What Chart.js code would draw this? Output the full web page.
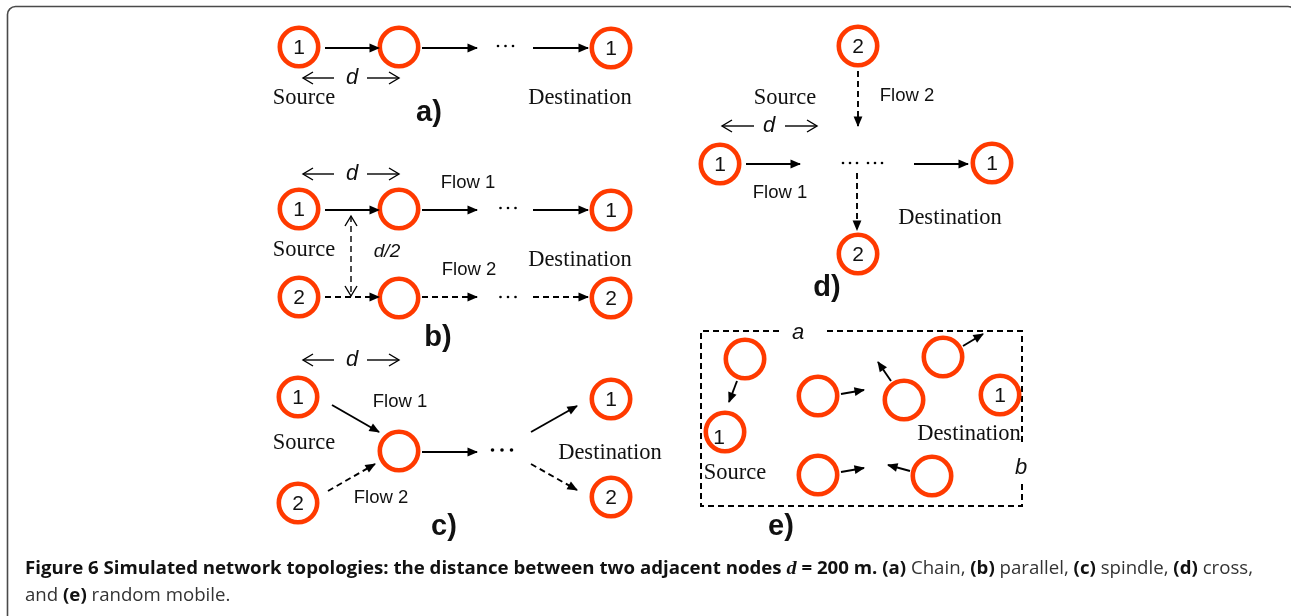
<!DOCTYPE html>
<html>
<head>
<meta charset="utf-8">
<script src="https://cdn.jsdelivr.net/npm/chart.js@4.4.0/dist/chart.umd.min.js"></script>
<style>
html, body { margin: 0; padding: 0; background: #fff; overflow: hidden; }
canvas { display: block; }
</style>
</head>
<body>
<canvas id="topo" width="1291" height="616"></canvas>
<script>
// nodes of the five topologies (a, b, c, d, e)
var nodeX = [299, 399, 611,
             299, 399, 611, 299, 399, 611,
             298, 298, 399, 611, 611,
             858, 720, 992, 858,
             745, 725, 818, 904, 943, 1000, 818, 932];
var nodeY = [47, 47, 48,
             209, 209, 210, 297, 298, 298,
             397, 503, 451, 399, 497,
             46, 164, 163, 254,
             359, 432, 396, 400, 357, 395, 475, 476];
var nodeText = ['1', '', '1',
                '1', '', '1', '2', '', '2',
                '1', '2', '', '1', '2',
                '2', '1', '1', '2',
                '', '', '', '', '', '1', '', ''];

// links: start point, end point, dashed or not, head type
var arrowX0 = [325, 422, 533,
               325, 422, 533, 325, 422, 533, 351,
               332, 422, 531, 531, 328,
               858, 746, 914, 857,
               737, 841, 891, 963, 841, 910,
               334, 367, 334, 367, 334, 367, 754, 785];
var arrowY0 = [48, 48, 48,
               210, 210, 210, 297, 297, 297, 216,
               405, 452, 432, 464, 491,
               71, 164, 164, 173,
               381, 394, 381, 346, 472, 471,
               78, 78, 174, 174, 360, 360, 126, 126];
var arrowX1 = [379, 477, 588,
               379, 477, 588, 379, 477, 588, 351,
               379, 477, 577, 577, 375,
               858, 800, 968, 857,
               729, 864, 878, 983, 864, 888,
               303, 399, 303, 399, 303, 399, 722, 817];
var arrowY1 = [48, 48, 48,
               210, 210, 210, 297, 297, 297, 296,
               432, 452, 406, 490, 464,
               126, 164, 164, 230,
               402, 390, 362, 334, 468, 465,
               78, 78, 174, 174, 360, 360, 126, 126];
var arrowDashed = [0, 0, 0,
                   0, 0, 0, 1, 1, 1, 1,
                   0, 0, 0, 1, 1,
                   1, 0, 0, 1,
                   0, 0, 0, 0, 0, 0,
                   0, 0, 0, 0, 0, 0, 0, 0];
var arrowHead = ['fill', 'fill', 'fill',
                 'fill', 'fill', 'fill', 'fill', 'fill', 'fill', 'both',
                 'fill', 'fill', 'fill', 'fill', 'fill',
                 'fill', 'fill', 'fill', 'fill',
                 'fill', 'fill', 'fill', 'fill', 'fill', 'fill',
                 'open', 'open', 'open', 'open', 'open', 'open', 'open', 'open'];

// the "..." between hops
var dotX = [498, 505.5, 513, 500.5, 508, 515.5, 500.5, 508, 515.5, 492.5, 502, 511.5, 843, 850, 857, 868, 875, 882];
var dotY = [46, 46, 46, 208, 208, 208, 297, 297, 297, 450, 450, 450, 163, 163, 163, 163, 163, 163];

// random mobile area (panel e), broken where a and b are written
var areaX = [779, 701, 701, 1022, 1022, null, 1022, 1022, 823];
var areaY = [331, 331, 506, 506, 481, null, 442, 331, 331];

// texts of the drawing
var labelText = ['Source', 'Destination', 'a)',
                 'd', 'd', 'd', 'd',
                 'Flow 1', 'Source', 'd/2', 'Flow 2', 'Destination', 'b)',
                 'Flow 1', 'Source', 'Destination', 'Flow 2', 'c)',
                 'Flow 2', 'Source', 'Flow 1', 'Destination', 'd)',
                 'a', 'b', 'Destination', 'Source', '1', 'e)'];
var labelX = [304, 580, 429,
              352, 352, 352, 769,
              468, 304, 387, 469, 580, 438,
              400, 304, 610, 381, 444,
              907, 785, 780, 950, 827,
              798, 1021, 969, 735, 719, 781];
var labelY = [98, 98, 113,
              78, 174, 360, 126,
              183, 250, 252, 270, 260, 338,
              402, 443, 453, 498, 527,
              96, 98, 193, 218, 288,
              333, 468, 434, 473, 438, 527];
var labelKind = ['serif', 'serif', 'panel',
                 'ital', 'ital', 'ital', 'ital',
                 'sans', 'serif', 'ital2', 'sans', 'serif', 'panel',
                 'sans', 'serif', 'serif', 'sans', 'panel',
                 'sans', 'serif', 'sans', 'serif', 'panel',
                 'ital', 'ital', 'serif', 'serif', 'digit', 'panel'];

var fonts = {
    serif: '22.5px "Liberation Serif"',
    sans: '18.5px "Liberation Sans"',
    ital: 'italic 22px "Liberation Sans"',
    ital2: 'italic 19px "Liberation Sans"',
    panel: 'bold 29px "Liberation Sans"',
    digit: '21px "Liberation Sans"'
};

var captionLine1 = [
    ['b', 'Figure 6 Simulated network topologies: the distance between two adjacent nodes '],
    ['m', 'd'],
    ['b', ' = 200 m. '],
    ['b', '(a)'], ['n', ' Chain, '],
    ['b', '(b)'], ['n', ' parallel, '],
    ['b', '(c)'], ['n', ' spindle, '],
    ['b', '(d)'], ['n', ' cross,']
];
var captionLine2 = [['n', 'and '], ['b', '(e)'], ['n', ' random mobile.']];

var RED = '#ff3a00';

function pts(xs, ys) {
    return xs.map(function (x, i) {
        return x === null ? {x: null, y: null} : {x: x, y: ys[i]};
    });
}

var datasets = [];
datasets.push({
    label: 'nodes',
    data: pts(nodeX, nodeY),
    showLine: false,
    pointRadius: 19.2,
    pointBorderWidth: 4.6,
    pointBackgroundColor: '#fff',
    pointBorderColor: RED,
    order: 0
});
datasets.push({
    label: 'dots',
    data: pts(dotX, dotY),
    showLine: false,
    pointRadius: dotX.map(function (x, i) { return i >= 9 && i < 12 ? 1.8 : 1.3; }),
    pointBorderWidth: 0,
    pointBackgroundColor: '#000',
    order: 1
});
datasets.push({
    label: 'area',
    type: 'line',
    data: pts(areaX, areaY),
    spanGaps: false,
    borderColor: '#000',
    borderWidth: 2,
    borderDash: [6, 4],
    pointRadius: 0,
    order: 2
});
arrowX0.forEach(function (x0, i) {
    var open = arrowHead[i] !== 'fill';
    datasets.push({
        label: 'arrow' + i,
        type: 'line',
        data: [{x: x0, y: arrowY0[i]}, {x: arrowX1[i], y: arrowY1[i]}],
        borderColor: '#000',
        borderWidth: open ? 1.4 : 1.9,
        borderDash: arrowDashed[i] ? [6, 4] : [],
        pointRadius: 0,
        head: arrowHead[i],
        order: 3
    });
});

function drawHead(ctx, from, to, kind) {
    var a = Math.atan2(to.y - from.y, to.x - from.x);
    ctx.save();
    ctx.translate(to.x, to.y);
    ctx.rotate(a);
    ctx.setLineDash([]);
    if (kind === 'fill') {
        ctx.beginPath();
        ctx.moveTo(1, 0);
        ctx.lineTo(-9.5, -4.4);
        ctx.lineTo(-9.5, 4.4);
        ctx.closePath();
        ctx.fillStyle = '#000';
        ctx.fill();
    } else {
        ctx.beginPath();
        ctx.moveTo(-10, -6);
        ctx.lineTo(0, 0);
        ctx.lineTo(-10, 6);
        ctx.strokeStyle = '#000';
        ctx.lineWidth = 1.4;
        ctx.stroke();
    }
    ctx.restore();
}

function runWidth(ctx, runs, runFont) {
    var w = 0;
    runs.forEach(function (r) {
        ctx.font = runFont[r[0]];
        w += ctx.measureText(r[1]).width;
    });
    return w;
}

function drawRuns(ctx, runs, runFont, x, y, sx) {
    ctx.save();
    ctx.translate(x, y);
    ctx.scale(sx, 1);
    var cx = 0;
    runs.forEach(function (r) {
        ctx.font = runFont[r[0]];
        ctx.fillStyle = r[0] === 'n' ? '#333' : '#111';
        ctx.fillText(r[1], cx, 0);
        cx += ctx.measureText(r[1]).width;
    });
    ctx.restore();
}

var diagramPlugin = {
    id: 'diagram',
    beforeDraw: function (chart) {
        var ctx = chart.ctx;
        ctx.save();
        ctx.fillStyle = '#fff';
        ctx.fillRect(0, 0, chart.width, chart.height);
        // rounded frame of the figure
        ctx.strokeStyle = '#4a4a4a';
        ctx.lineWidth = 1.6;
        ctx.beginPath();
        ctx.moveTo(7.5, chart.height + 5);
        ctx.lineTo(7.5, 15);
        ctx.arcTo(7.5, 6.5, 16, 6.5, 8);
        ctx.lineTo(1288, 6.5);
        ctx.arcTo(1296, 6.5, 1296, 15, 8);
        ctx.stroke();
        ctx.restore();
    },
    afterDatasetsDraw: function (chart) {
        var ctx = chart.ctx;
        var sx = chart.scales.x, sy = chart.scales.y;
        chart.data.datasets.forEach(function (ds, i) {
            if (!ds.head) return;
            var p = chart.getDatasetMeta(i).data;
            drawHead(ctx, p[0], p[1], ds.head);
            if (ds.head === 'both') drawHead(ctx, p[1], p[0], 'open');
        });

        ctx.save();
        ctx.textAlign = 'center';
        ctx.textBaseline = 'middle';
        ctx.fillStyle = '#111';
        ctx.font = fonts.digit;
        nodeText.forEach(function (t, i) {
            if (!t) return;
            ctx.fillText(t, sx.getPixelForValue(nodeX[i]), sy.getPixelForValue(nodeY[i]) + 1);
        });
        labelText.forEach(function (t, i) {
            ctx.font = fonts[labelKind[i]];
            ctx.fillText(t, sx.getPixelForValue(labelX[i]), sy.getPixelForValue(labelY[i]));
        });
        ctx.restore();

        // caption
        var runFont = {
            b: 'bold 17.5px "Open Sans"',
            n: '17.5px "Open Sans"',
            m: 'bold italic 19px "Liberation Serif"'
        };
        ctx.save();
        ctx.textAlign = 'left';
        ctx.textBaseline = 'alphabetic';
        var w1 = runWidth(ctx, captionLine1, runFont);
        var k = 1228 / w1;
        drawRuns(ctx, captionLine1, runFont, 25, 574, k);
        drawRuns(ctx, captionLine2, runFont, 25, 601, k);
        ctx.restore();
    }
};

new Chart(document.getElementById('topo'), {
    type: 'scatter',
    data: { datasets: datasets },
    options: {
        responsive: false,
        animation: false,
        clip: false,
        layout: { padding: 0, autoPadding: false },
        scales: {
            x: { type: 'linear', min: 0, max: 1291, display: false },
            y: { type: 'linear', min: 0, max: 616, reverse: true, display: false }
        },
        plugins: {
            legend: { display: false },
            tooltip: { enabled: false }
        }
    },
    plugins: [diagramPlugin]
});
</script>
</body>
</html>
